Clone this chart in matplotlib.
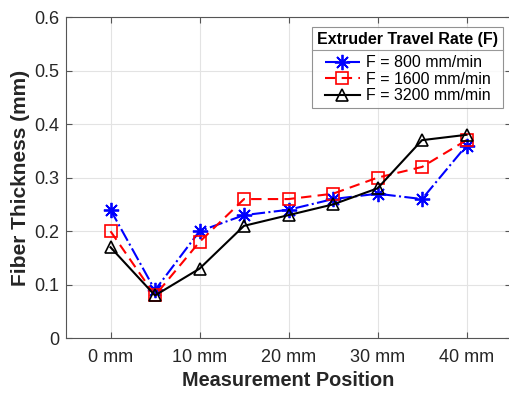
import matplotlib
matplotlib.use("Agg")
import matplotlib.pyplot as plt
from matplotlib.lines import Line2D

# Measurement positions (mm) and fiber thickness (mm) for each travel rate
positions = [0, 5, 10, 15, 20, 25, 30, 35, 40]
f800 = [0.24, 0.09, 0.20, 0.23, 0.24, 0.26, 0.27, 0.26, 0.36]
f1600 = [0.20, 0.08, 0.18, 0.26, 0.26, 0.27, 0.30, 0.32, 0.37]
f3200 = [0.17, 0.08, 0.13, 0.21, 0.23, 0.25, 0.28, 0.37, 0.38]

xtick_vals = [0, 10, 20, 30, 40]
xtick_labels = ["0 mm", "10 mm", "20 mm", "30 mm", "40 mm"]
ytick_vals = [0, 0.1, 0.2, 0.3, 0.4, 0.5, 0.6]

plt.rcParams["font.family"] = ["Liberation Sans", "DejaVu Sans"]

W, H = 509, 393
fig = plt.figure(figsize=(W / 100, H / 100), dpi=100)
ax = fig.add_axes([66 / W, (H - 338.3) / H, (511 - 66) / W, (338.3 - 17) / H])

axc = "#555555"
asterisk = (8, 2, 0)
ax.plot(positions, f800, color="blue", linestyle="-.", linewidth=1.5,
        marker=asterisk, markersize=11, markeredgewidth=1.3, label="F = 800 mm/min")
ax.plot(positions, f1600, color="red", linestyle="--", linewidth=1.5,
        dashes=(5, 3), marker="s", markersize=8, markerfacecolor="none",
        markeredgewidth=1.2, label="F = 1600 mm/min")
ax.plot(positions, f3200, color="black", linestyle="-", linewidth=1.5,
        marker="^", markersize=9, markerfacecolor="none", markeredgewidth=1.2,
        label="F = 3200 mm/min")

ax.set_xlim(-5, 45)
ax.set_ylim(0, 0.6)
ax.set_xticks(xtick_vals)
ax.set_xticklabels(xtick_labels)
ax.set_yticks(ytick_vals)
ax.set_yticklabels(["0", "0.1", "0.2", "0.3", "0.4", "0.5", "0.6"])
ax.grid(True, color="#e3e3e3", linewidth=0.8)
ax.set_axisbelow(True)
ax.tick_params(direction="in", top=True, right=True, length=4, width=0.8,
               colors=axc, labelcolor="#262626", labelsize=13)
ax.tick_params(axis="x", pad=8)
ax.tick_params(axis="y", pad=5)
for s in ax.spines.values():
    s.set_color(axc)
    s.set_linewidth(0.8)

ax.set_xlabel("Measurement Position", fontsize=14.3, fontweight="bold",
              color="#262626", labelpad=3)
ax.set_ylabel("Fiber Thickness (mm)", fontsize=15, fontweight="bold",
              color="#262626", labelpad=3)

leg = ax.legend(title="Extruder Travel Rate (F)", loc="upper right",
                bbox_to_anchor=((503 - 66) / (511 - 66), (338.3 - 27) / (338.3 - 17)),
                fontsize=11.5, title_fontproperties={"weight": "bold", "size": 11.5},
                frameon=True, fancybox=False, edgecolor="#777777",
                handlelength=2.2, handletextpad=0.4, labelspacing=0.1,
                borderpad=0.3, borderaxespad=0)
leg.get_frame().set_linewidth(0.8)
# extra room between the title and the entries
leg._legend_box.sep = 6

# Separator line under the legend title
fig.canvas.draw()
r = fig.canvas.get_renderer()
fb = leg.get_frame().get_window_extent(r)
tb = leg.get_title().get_window_extent(r)
ysep = (tb.y0 - 3) / H
fig.add_artist(Line2D([fb.x0 / W, fb.x1 / W], [ysep, ysep],
                      color="#999999", linewidth=0.8, transform=fig.transFigure))

fig.savefig("out.png", dpi=100)
